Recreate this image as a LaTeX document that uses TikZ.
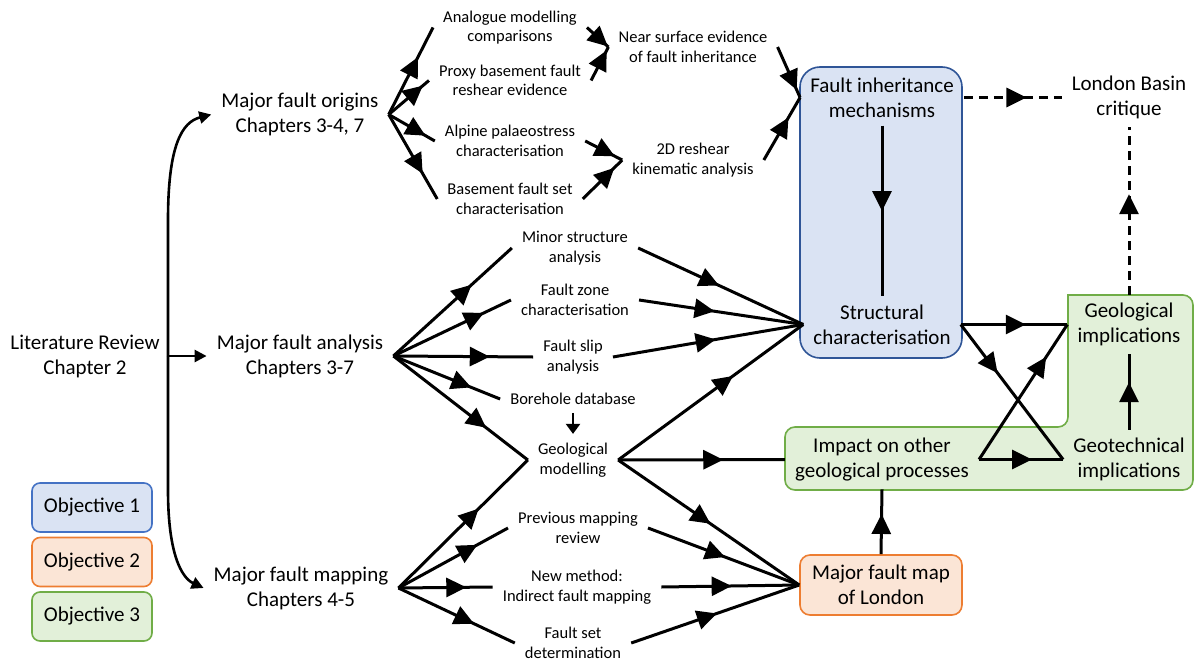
\documentclass[tikz,border=0pt]{standalone}
\usepackage{fontspec}
\setmainfont{Carlito}
\usetikzlibrary{arrows.meta,decorations.markings,calc}
\definecolor{bfill}{HTML}{DAE3F3}
\definecolor{bline}{HTML}{4472C4}
\definecolor{bline2}{HTML}{2F5597}
\definecolor{ofill}{HTML}{FBE5D6}
\definecolor{oline}{HTML}{ED7D31}
\definecolor{gfill}{HTML}{E2F0D9}
\definecolor{gline}{HTML}{70AD47}
\tikzset{
  big/.style={inner xsep=10pt, inner ysep=8pt, align=center, font=\fontsize{21}{25}\selectfont},
  small/.style={inner xsep=10pt, inner ysep=4pt, align=center, font=\fontsize{16.5}{19.5}\selectfont},
  conn/.style={line width=3pt, postaction={decorate},
    decoration={markings, mark=at position #1 with {\arrow{Triangle[length=20pt,width=19pt]}}}},
  conn/.default=0.6,
  dconn/.style={conn=#1, dash pattern=on 9pt off 6pt},
  brk/.style={line width=2.6pt, -{Triangle[length=12pt,width=12pt]}},
  legbox/.style={big, line width=1.6pt, rounded corners=8pt, minimum width=120pt, minimum height=49pt},
}
\begin{document}
\begin{tikzpicture}[x=1pt,y=-1pt]
\fill[white] (0,0) rectangle (1194,661);
\useasboundingbox (0,0) rectangle (1194,661);

% background shapes
\node[draw=bline2, fill=bfill, line width=1.6pt, rounded corners=20pt,
      minimum width=162pt, minimum height=291pt] (box1) at (881,212.5) {};
\draw[draw=gline, fill=gfill, line width=1.6pt, rounded corners=10pt]
  (785,458) -- (785,427) -- (1068,427) [sharp corners] -- (1068,295)
  [rounded corners=10pt] -- (1193,295) -- (1193,490) -- (785,490) -- cycle;
\node[big, draw=oline, fill=ofill, line width=1.6pt, rounded corners=10pt,
      minimum width=162pt, minimum height=60pt] (map) at (881,585) {Major fault map\\of London};

% legend
\node[legbox, draw=bline, fill=bfill] (ob1) at (92,507.5) {Objective 1};
\node[legbox, draw=oline, fill=ofill] (ob2) at (92,562) {Objective 2};
\node[legbox, draw=gline, fill=gfill] (ob3) at (92,616.5) {Objective 3};

% big text nodes
\node[big] (lr)  at (85,356)   {Literature Review\\Chapter 2};
\node[big] (mfo) at (300,114.5) {Major fault origins\\Chapters 3-4, 7};
\node[big] (mfa) at (300,356)  {Major fault analysis\\Chapters 3-7};
\node[big] (mfm) at (301,588)  {Major fault mapping\\Chapters 4-5};
\node[big] (fim) at (882,97.5) {Fault inheritance\\mechanisms};
\node[big] (sc)  at (882,324.5) {Structural\\characterisation};
\node[big] (lbc) at (1129,97.5) {London Basin\\critique};
\node[big] (gi)  at (1129,324.5) {Geological\\implications};
\node[big] (gt)  at (1129,459.5) {Geotechnical\\implications};
\node[big] (imp) at (882,459.5) {Impact on other\\geological processes};

% small text nodes
\node[small] (amc) at (510,27.5) {Analogue modelling\\comparisons};
\node[small] (pbf) at (510,80.5) {Proxy basement fault\\reshear evidence};
\node[small] (aps) at (510,141)  {Alpine palaeostress\\characterisation};
\node[small] (bfs) at (510,199)  {Basement fault set\\characterisation};
\node[small] (nse) at (693,47)   {Near surface evidence\\of fault inheritance};
\node[small] (rsh) at (693,160)  {2D reshear\\kinematic analysis};
\node[small] (msa) at (575,248)  {Minor structure\\analysis};
\node[small] (fzc) at (575,300)  {Fault zone\\characterisation};
\node[small] (fsa) at (573,357)  {Fault slip\\analysis};
\node[small] (bhd) at (573,399)  {Borehole database};
\node[small] (gm)  at (573,460)  {Geological\\modelling};
\node[small] (pmr) at (578,528)  {Previous mapping\\review};
\node[small] (nm)  at (577,587)  {New method:\\Indirect fault mapping};
\node[small] (fsd) at (573,643)  {Fault set\\determination};

% literature review bracket
\coordinate (lrj) at (168,356);
\draw[brk] (lrj) -- (mfa.west);
\draw[brk] (lrj) -- (168,220) .. controls (168,145) and (182,122) .. (mfo.west);
\draw[brk] (lrj) -- (168,490) .. controls (168,555) and (182,578) .. (mfm.west);

% top fan
\draw[conn=0.66] (mfo.east) -- (amc.west);
\draw[conn=0.85] (mfo.east) -- (pbf.west);
\draw[conn=0.8]  (mfo.east) -- (aps.west);
\draw[conn=0.7]  (mfo.east) -- (bfs.west);
\draw[conn=0.97] (amc.east) -- (nse.west);
\draw[conn=0.9]  (pbf.east) -- (nse.west);
\draw[conn=0.8]  (aps.east) -- (rsh.west);
\draw[conn=0.8]  (bfs.east) -- (rsh.west);
\draw[conn=0.85] (nse.east) -- (fim.west);
\draw[conn=0.68] (rsh.east) -- (fim.west);

% middle fan
\draw[conn=0.66] (mfa.east) -- (msa.west);
\draw[conn=0.77] (mfa.east) -- (fzc.west);
\draw[conn=0.69] (mfa.east) -- (fsa.west);
\draw[conn=0.73] (mfa.east) -- (bhd.west);
\draw[conn=0.69] (mfa.east) -- (gm.west);
\draw[conn=0.49] (msa.east) -- (sc.west);
\draw[conn=0.46] (fzc.east) -- (sc.west);
\draw[conn=0.54] (fsa.east) -- (sc.west);
\draw[conn=0.62] (gm.east) -- (sc.west);
\draw[conn=0.63] (gm.east) -- (imp.west);
\draw[conn=0.51] (gm.east) -- (map.west);
\draw[line width=2.2pt, -{Triangle[length=10pt,width=14pt]}, shorten <=4pt, shorten >=5pt] (bhd.south) -- (gm.north);

% bottom fan
\draw[conn=0.62] (mfm.east) -- (gm.west);
\draw[conn=0.72] (mfm.east) -- (pmr.west);
\draw[conn=0.72] (mfm.east) -- (nm.west);
\draw[conn=0.65] (mfm.east) -- (fsd.west);
\draw[conn=0.51] (pmr.east) -- (map.west);
\draw[conn=0.51] (nm.east) -- (map.west);
\draw[conn=0.51] (fsd.east) -- (map.west);

% right part
\draw[conn=0.5]  (fim.south) -- (sc.north);
\draw[conn=0.61] (sc.east) -- (gi.west);
\draw[conn=0.36] (sc.east) -- (gt.west);
\draw[conn=0.63] (imp.east) -- (gt.west);
\draw[conn=0.76] (imp.east) -- (gi.west);
\draw[conn=0.63] (gt.north) -- (gi.south);
\draw[conn=0.62] (map.north) -- (imp.south);
\draw[dconn=0.64] (fim.east) -- (lbc.west);
\draw[dconn=0.6]  (gi.north) -- (lbc.south);
\end{tikzpicture}
\end{document}
